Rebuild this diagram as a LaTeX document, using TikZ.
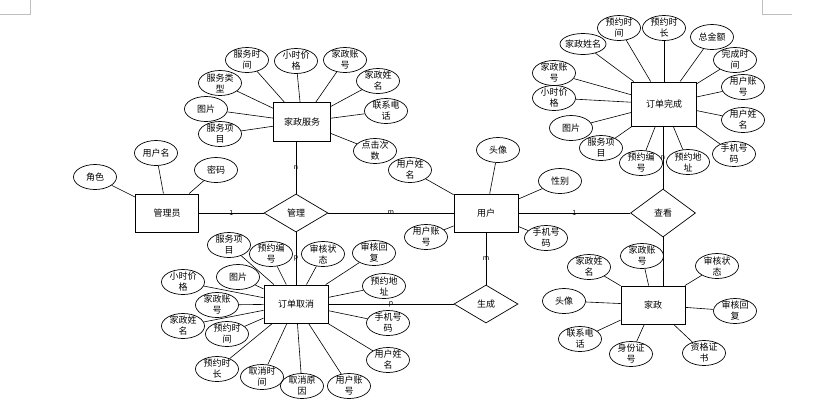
\documentclass[tikz,border=0pt]{standalone}
\usepackage{fontspec}
\setmainfont{Noto Sans CJK SC}
\usetikzlibrary{shapes.geometric}
\begin{document}
\begin{tikzpicture}[x=1pt,y=-1pt,
  txt/.style={font=\fontsize{9}{11}\selectfont},
  ent/.style={draw,line width=0.9pt,inner sep=0,minimum width=64pt,minimum height=38pt,txt},
  rel/.style={diamond,draw,line width=0.7pt,inner sep=0,minimum width=64pt,minimum height=38pt,txt},
  lbl/.style={align=center,inner sep=0,txt},
  attr/.style={ellipse,draw,line width=0.7pt,minimum width=43pt,minimum height=25pt,inner sep=0,label={[lbl]center:{#1}}},
  card/.style={font=\fontsize{7}{7}\selectfont,inner sep=0},
  conn/.style={line width=0.6pt},
  corner/.style={draw=black!25,line width=0.6pt}]
\useasboundingbox (0,0) rectangle (835,416);
% page corner marks
\draw[corner] (0,14) -- (30,14) -- (30,0);
\draw[corner] (762,0) -- (762,14) -- (792,14);

% entities and relations
\node[ent,minimum width=57pt,minimum height=39pt] (jzfw) at (302,122) {家政服务};
\node[ent,minimum width=63pt] (admin) at (167,213) {管理员};
\node[rel] (gl) at (296,213) {管理};
\node[ent] (user) at (486,213) {用户};
\node[rel,minimum width=65pt,minimum height=48pt] (ck) at (663,213) {查看};
\node[ent,minimum width=65pt,minimum height=44pt] (ddwc) at (664,104) {订单完成};
\node[ent] (ddqx) at (296,304) {订单取消};
\node[rel] (sc) at (486,304) {生成};
\node[ent] (jz) at (653,305) {家政};

% relationships
\draw[conn] (admin) -- node[card]{1} (gl);
\draw[conn] (gl) -- node[card]{m} (user);
\draw[conn] (gl.north |- jzfw.south) -- node[card]{n} (gl.north);
\draw[conn] (gl) -- node[card]{p} (ddqx);
\draw[conn] (user) -- node[card]{1} (ck);
\draw[conn] (ck.north |- ddwc.south) -- node[card]{n} (ck.north);
\draw[conn] (ck.south) -- (ck.south |- jz.north);
\draw[conn] (user) -- node[card]{m} (sc);
\draw[conn] (sc) -- node[card]{p} (ddqx);

% 家政服务 attributes
\foreach \n/\p/\t in {
  a1/{(247,60)}/{服务时\\间},
  a2/{(296,61)}/{小时价\\格},
  a3/{(345,60)}/{家政账\\号},
  a4/{(378,81)}/{家政姓\\名},
  a5/{(386,111)}/{联系电\\话},
  a6/{(375,151)}/{点击次\\数},
  a7/{(220,83)}/{服务类\\型},
  a8/{(206,109)}/{图片},
  a9/{(220,134)}/{服务项\\目}}
{\node[attr={\t}] (\n) at \p {}; \draw[conn] (\n) -- (jzfw);}

% 管理员 attributes
\foreach \n/\p/\t in {
  b1/{(95,177)}/{角色},
  b2/{(156,153)}/{用户名},
  b3/{(216,170)}/{密码}}
{\node[attr={\t}] (\n) at \p {}; \draw[conn] (\n) -- (admin);}

% 用户 attributes
\foreach \n/\p/\t in {
  c1/{(498,150)}/{头像},
  c2/{(560,181)}/{性别},
  c3/{(410,170)}/{用户姓\\名},
  c4/{(426,237)}/{用户账\\号},
  c5/{(546,238)}/{手机号\\码}}
{\node[attr={\t}] (\n) at \p {}; \draw[conn] (\n) -- (user);}

% 订单完成 attributes
\foreach \n/\p/\t in {
  d1/{(619,28)}/{预约时\\间},
  d2/{(664,28)}/{预约时\\长},
  d3/{(712,37)}/{总金额},
  d4/{(735,60)}/{完成时\\间},
  d5/{(743,87)}/{用户账\\号},
  d6/{(743,120)}/{用户姓\\名},
  d7/{(734,154)}/{手机号\\码},
  d8/{(688,162)}/{预约地\\址},
  d9/{(641,163)}/{预约编\\号},
  d10/{(601,148)}/{服务项\\目},
  d11/{(571,128)}/{图片},
  d12/{(554,98)}/{小时价\\格},
  d13/{(554,73)}/{家政账\\号}}
{\node[attr={\t}] (\n) at \p {}; \draw[conn] (\n) -- (ddwc);}
\node[attr={家政姓名},minimum width=46pt,minimum height=21pt] (d14) at (583,44) {};
\draw[conn] (d14) -- (ddwc);

% 订单取消 attributes
\foreach \n/\p/\t in {
  e1/{(229,245)}/{服务项\\目},
  e2/{(271,254)}/{预约编\\号},
  e3/{(323,254)}/{审核状\\态},
  e4/{(374,253)}/{审核回\\复},
  e5/{(384,286)}/{预约地\\址},
  e6/{(388,323)}/{手机号\\码},
  e7/{(388,360)}/{用户姓\\名},
  e8/{(349,386)}/{用户账\\号},
  e9/{(302,386)}/{取消原\\因},
  e10/{(262,377)}/{取消时\\间},
  e11/{(217,369)}/{预约时\\长},
  e12/{(227,334)}/{预约时\\间},
  e13/{(183,326)}/{家政姓\\名},
  e14/{(217,305)}/{家政账\\号},
  e15/{(183,282)}/{小时价\\格},
  e16/{(238,277)}/{图片}}
{\node[attr={\t}] (\n) at \p {}; \draw[conn] (\n) -- (ddqx);}

% 家政 attributes
\foreach \n/\p/\t in {
  f1/{(589,267)}/{家政姓\\名},
  f2/{(642,256)}/{家政账\\号},
  f3/{(717,266)}/{审核状\\态},
  f4/{(735,311)}/{审核回\\复},
  f5/{(704,353)}/{资格证\\书},
  f6/{(631,354)}/{身份证\\号},
  f7/{(580,339)}/{联系电\\话},
  f8/{(564,301)}/{头像}}
{\node[attr={\t}] (\n) at \p {}; \draw[conn] (\n) -- (jz);}
\end{tikzpicture}
\end{document}
